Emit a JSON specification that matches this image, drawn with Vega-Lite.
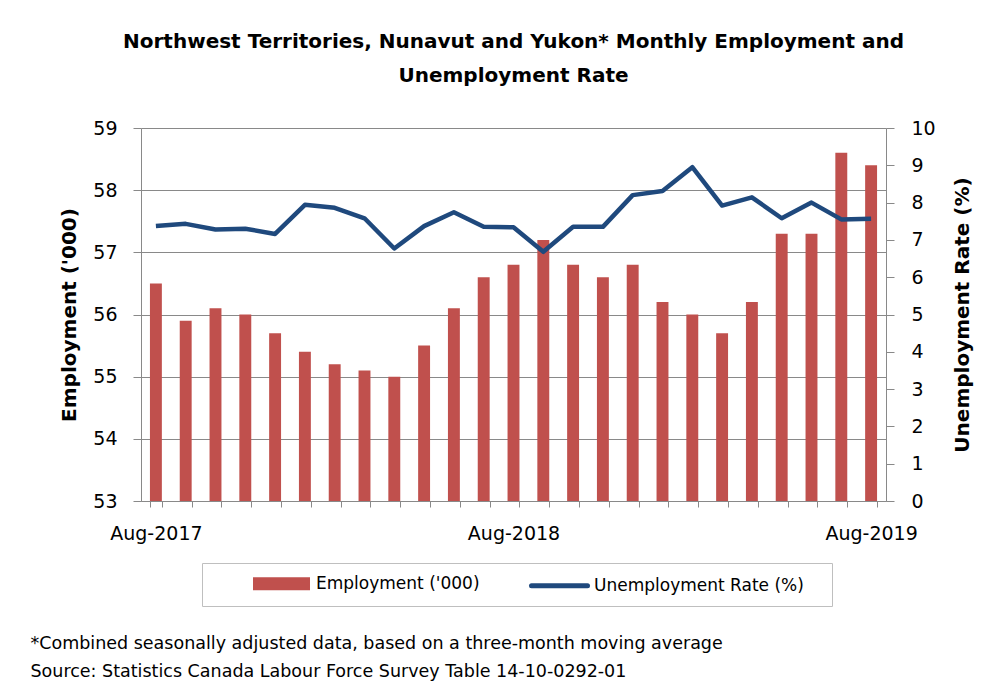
{
  "$schema": "https://vega.github.io/schema/vega-lite/v6.json",
  "autosize": "none",
  "width": 745,
  "height": 373,
  "padding": {"left": 141, "top": 128, "right": 119, "bottom": 186},
  "background": "white",
  "config": {
    "view": {"stroke": null},
    "font": "DejaVu Sans"
  },
  "title": {
    "text": ["Northwest Territories, Nunavut and Yukon* Monthly Employment and", "Unemployment Rate"],
    "font": "DejaVu Sans",
    "fontSize": 20,
    "fontWeight": "bold",
    "color": "#000000",
    "anchor": "middle",
    "lineHeight": 34,
    "baseline": "alphabetic",
    "offset": 17
  },
  "data": {
    "values": [
      {"month": "Aug-2017", "emp": 56.5, "rate": 7.37},
      {"month": "Sep-2017", "emp": 55.9, "rate": 7.43},
      {"month": "Oct-2017", "emp": 56.1, "rate": 7.28},
      {"month": "Nov-2017", "emp": 56.0, "rate": 7.30},
      {"month": "Dec-2017", "emp": 55.7, "rate": 7.16},
      {"month": "Jan-2018", "emp": 55.4, "rate": 7.94},
      {"month": "Feb-2018", "emp": 55.2, "rate": 7.86},
      {"month": "Mar-2018", "emp": 55.1, "rate": 7.58},
      {"month": "Apr-2018", "emp": 55.0, "rate": 6.77},
      {"month": "May-2018", "emp": 55.5, "rate": 7.37},
      {"month": "Jun-2018", "emp": 56.1, "rate": 7.74},
      {"month": "Jul-2018", "emp": 56.6, "rate": 7.35},
      {"month": "Aug-2018", "emp": 56.8, "rate": 7.34},
      {"month": "Sep-2018", "emp": 57.2, "rate": 6.68},
      {"month": "Oct-2018", "emp": 56.8, "rate": 7.35},
      {"month": "Nov-2018", "emp": 56.6, "rate": 7.35},
      {"month": "Dec-2018", "emp": 56.8, "rate": 8.20},
      {"month": "Jan-2019", "emp": 56.2, "rate": 8.31},
      {"month": "Feb-2019", "emp": 56.0, "rate": 8.95},
      {"month": "Mar-2019", "emp": 55.7, "rate": 7.92},
      {"month": "Apr-2019", "emp": 56.2, "rate": 8.14},
      {"month": "May-2019", "emp": 57.3, "rate": 7.58},
      {"month": "Jun-2019", "emp": 57.3, "rate": 8.00},
      {"month": "Jul-2019", "emp": 58.6, "rate": 7.55},
      {"month": "Aug-2019", "emp": 58.4, "rate": 7.57}
    ]
  },
  "encoding": {
    "x": {
      "field": "month",
      "type": "nominal",
      "sort": null,
      "scale": {"paddingInner": 0.6, "paddingOuter": 0.3},
      "axis": {
        "labelExpr": "(datum.label == 'Aug-2017' || datum.label == 'Aug-2018' || datum.label == 'Aug-2019') ? datum.label : ''",
        "labelAngle": 0,
        "labelOverlap": false,
        "labelFont": "DejaVu Sans",
        "labelFontSize": 19,
        "labelColor": "#000000",
        "labelPadding": 17,
        "tickBand": "extent",
        "tickSize": 6,
        "tickColor": "#898989",
        "domainColor": "#898989",
        "grid": false,
        "title": ["*Combined seasonally adjusted data,  based on a three-month moving average", "Source: Statistics Canada Labour Force Survey Table 14-10-0292-01"],
        "titleFont": "DejaVu Sans",
        "titleFontSize": 17.5,
        "titleFontWeight": "normal",
        "titleColor": "#000000",
        "titleAlign": "left",
        "titleAnchor": "start",
        "titleBaseline": "alphabetic",
        "titleLineHeight": 28,
        "titleX": -111,
        "titleY": 147
      }
    }
  },
  "layer": [
    {
      "mark": {"type": "bar", "color": "#c0504d"},
      "encoding": {
        "y": {
          "field": "emp",
          "type": "quantitative",
          "scale": {"domain": [53, 59], "zero": false, "nice": false},
          "axis": {
            "orient": "left",
            "values": [53, 54, 55, 56, 57, 58, 59],
            "title": "Employment ('000)",
            "titleFont": "DejaVu Sans",
            "titleFontSize": 20,
            "titleFontWeight": "bold",
            "titleColor": "#000000",
            "titlePadding": 13,
            "labelFont": "DejaVu Sans",
            "labelFontSize": 19,
            "labelColor": "#000000",
            "labelPadding": 16,
            "tickSize": 8,
            "tickColor": "#898989",
            "domainColor": "#898989",
            "grid": true,
            "gridColor": "#898989",
            "gridOpacity": 1
          }
        },
        "y2": {"datum": 53},
        "color": {
          "datum": "Employment ('000)",
          "type": "nominal",
          "scale": {"domain": ["Employment ('000)", "Unemployment Rate (%)"], "range": ["#c0504d", "#1f497d"]},
          "legend": {
            "orient": "none",
            "legendX": 61,
            "legendY": 435,
            "direction": "horizontal",
            "title": " ",
            "titleOrient": "right",
            "titlePadding": 20,
            "titleFontSize": 16,
            "strokeColor": "#bfbfbf",
            "fillColor": "white",
            "padding": 8,
            "columnPadding": 8,
            "labelFont": "DejaVu Sans",
            "labelFontSize": 17,
            "labelColor": "#000000",
            "labelLimit": 400,
            "symbolSize": 400,
            "symbolOffset": 59,
            "labelOffset": 22,
            "encode": {
              "symbols": {
                "update": {
                  "shape": {"signal": "datum.value == 'Unemployment Rate (%)' ? 'M-2.8,0H2.8' : 'M-2.6,-0.4H2.6V0.4H-2.6Z'"},
                  "fill": {"signal": "datum.value == 'Unemployment Rate (%)' ? 'transparent' : '#c0504d'"},
                  "stroke": {"signal": "datum.value == 'Unemployment Rate (%)' ? '#1f497d' : 'transparent'"},
                  "strokeWidth": {"value": 5},
                  "strokeCap": {"value": "round"},
                  "opacity": {"value": 1}
                }
              }
            }
          }
        }
      }
    },
    {
      "mark": {"type": "line", "strokeWidth": 4.5, "strokeJoin": "round"},
      "encoding": {
        "y": {
          "field": "rate",
          "type": "quantitative",
          "scale": {"domain": [0, 10], "nice": false},
          "axis": {
            "orient": "right",
            "values": [0, 1, 2, 3, 4, 5, 6, 7, 8, 9, 10],
            "title": "Unemployment Rate (%)",
            "titleAngle": 270,
            "titleFont": "DejaVu Sans",
            "titleFontSize": 20,
            "titleFontWeight": "bold",
            "titleColor": "#000000",
            "titlePadding": 37,
            "labelFont": "DejaVu Sans",
            "labelFontSize": 19,
            "labelColor": "#000000",
            "labelPadding": 17,
            "tickSize": 8,
            "tickColor": "#898989",
            "domainColor": "#898989",
            "grid": false
          }
        },
        "color": {"datum": "Unemployment Rate (%)", "type": "nominal"}
      }
    }
  ],
  "resolve": {"scale": {"y": "independent"}}
}
